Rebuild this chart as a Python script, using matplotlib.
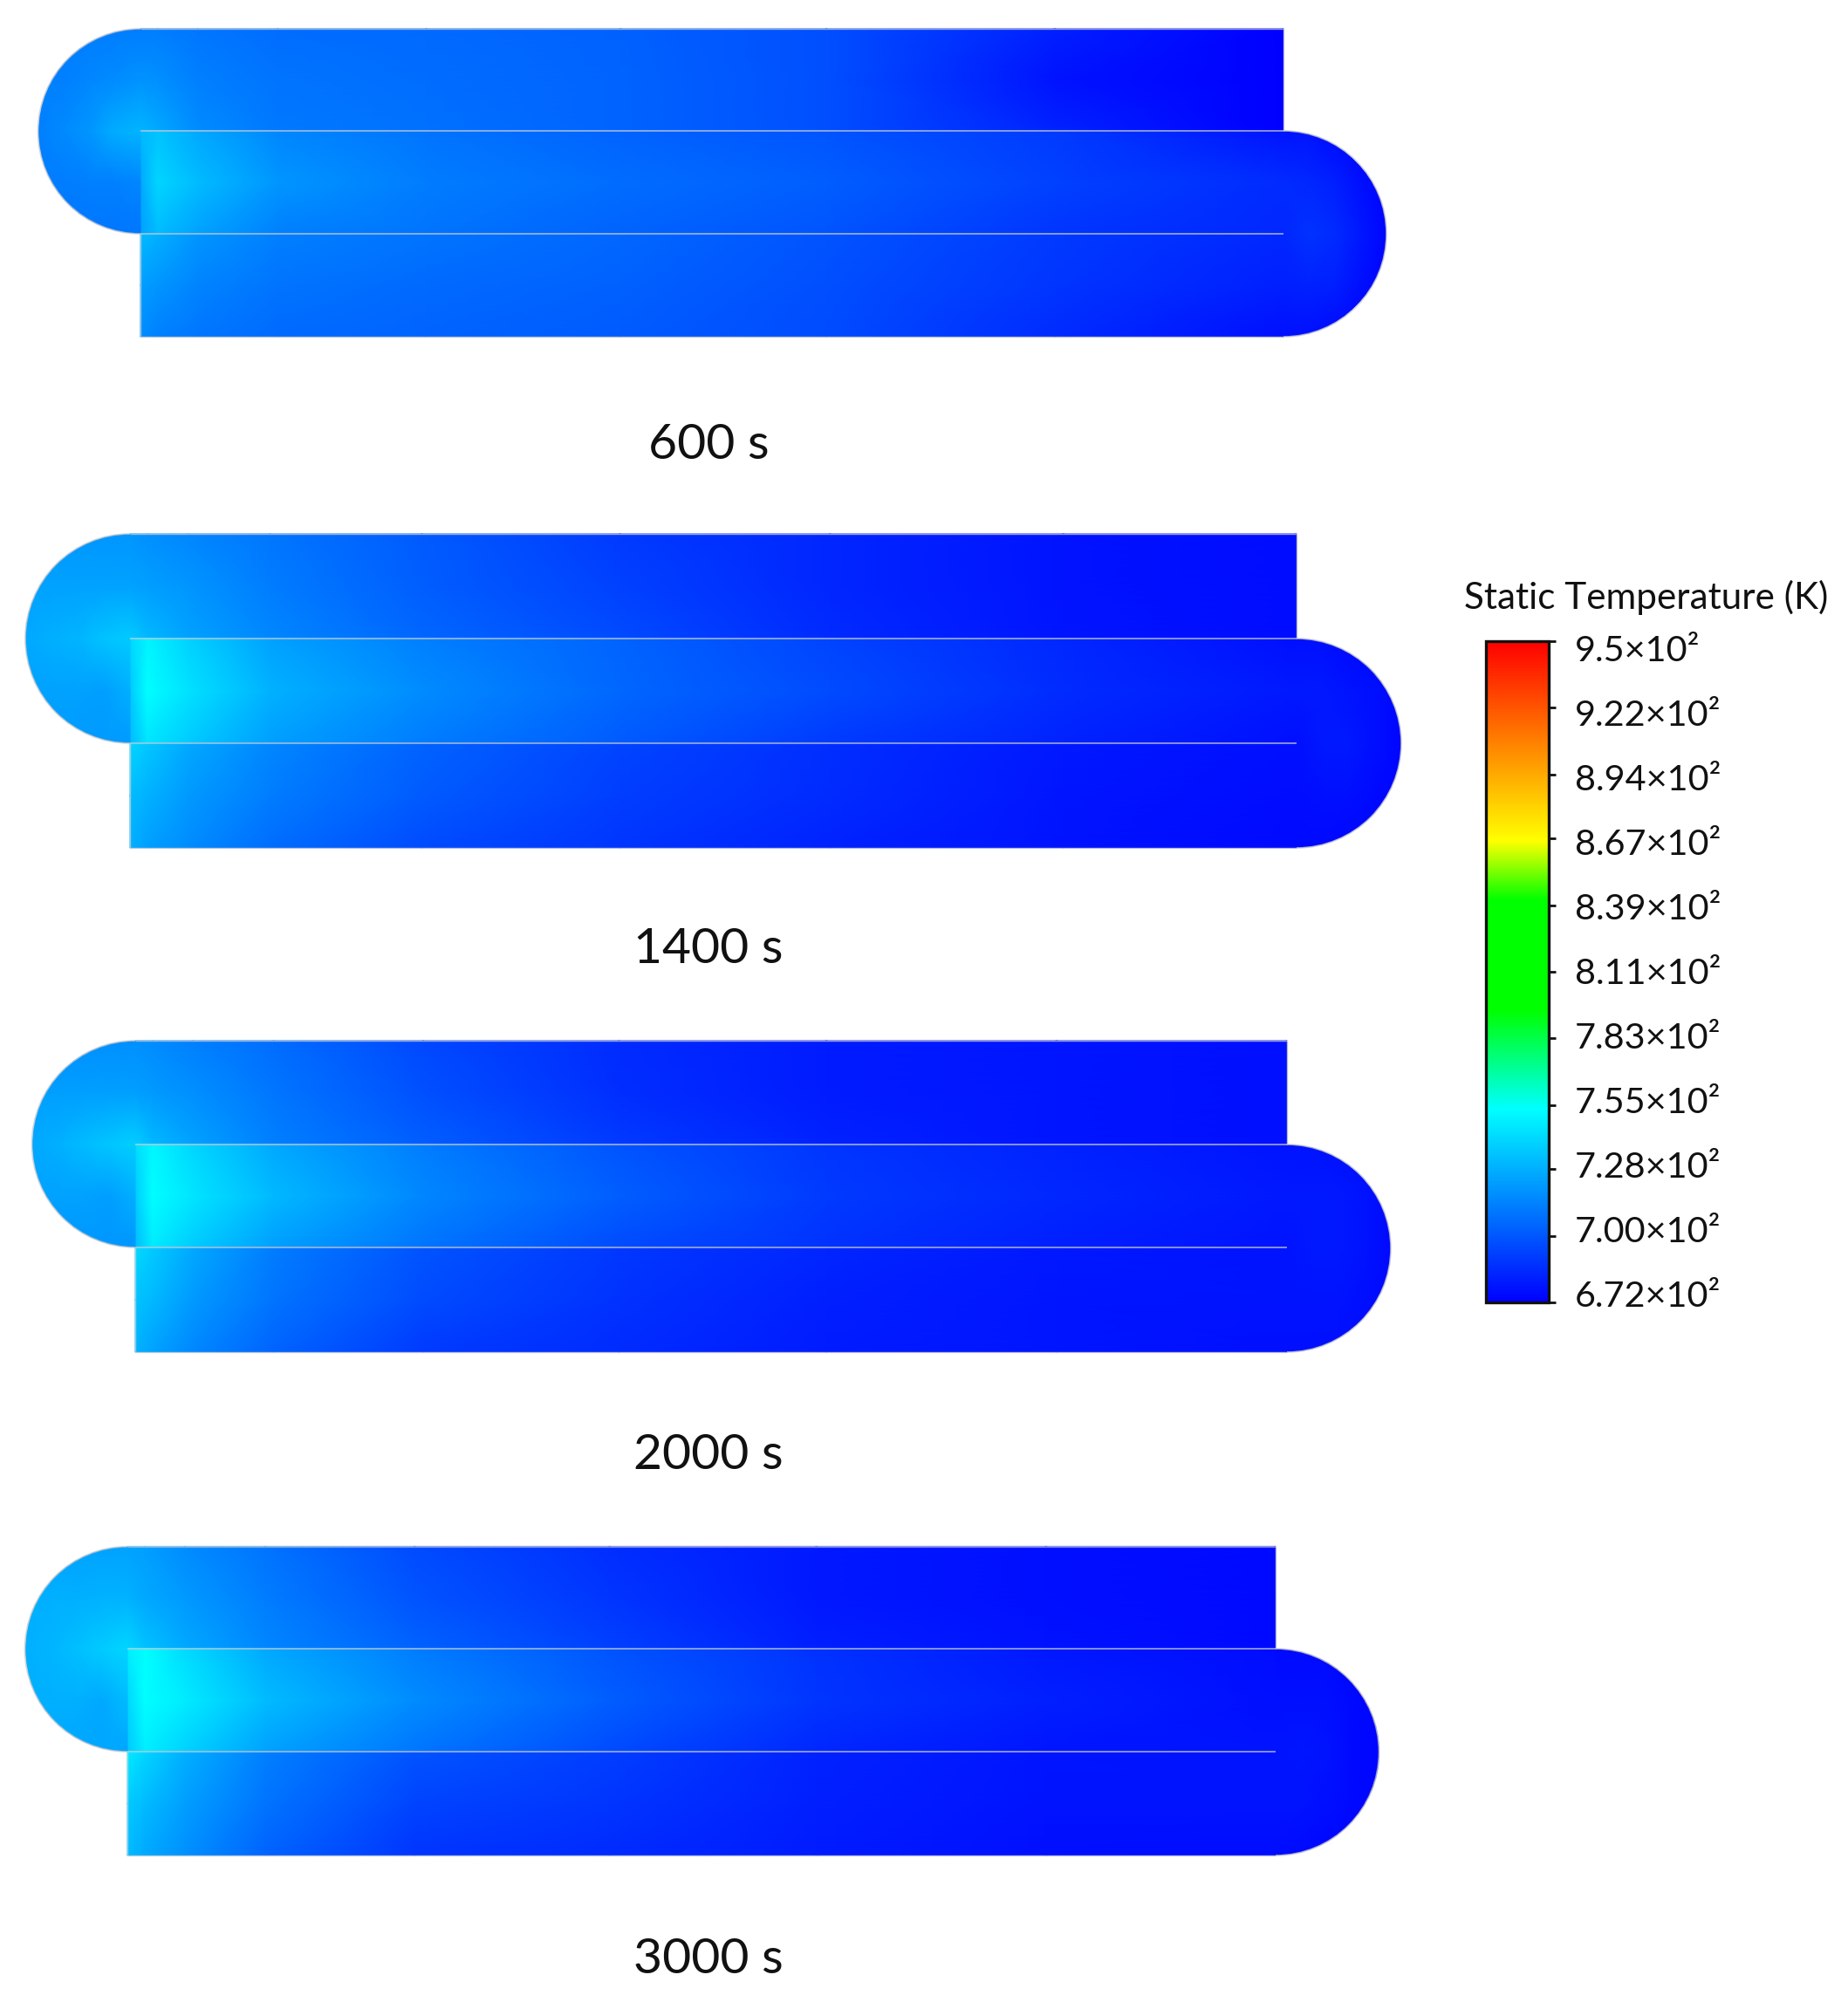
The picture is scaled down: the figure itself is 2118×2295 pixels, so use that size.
import numpy as np
import matplotlib
matplotlib.use("Agg")
import matplotlib.pyplot as plt
from matplotlib.cm import ScalarMappable
from matplotlib.colors import LinearSegmentedColormap, Normalize
from matplotlib.patches import Arc, Circle

# values
TIMES = ["600 s", "1400 s", "2000 s", "3000 s"]
COLORBAR_TITLE = "Static Temperature (K)"
TICK_VALUES = [950, 922, 894, 867, 839, 811, 783, 755, 728, 700, 672]
TICK_LABELS = ["9.5×10²", "9.22×10²", "8.94×10²", "8.67×10²", "8.39×10²", "8.11×10²",
               "7.83×10²", "7.55×10²", "7.28×10²", "7.00×10²", "6.72×10²"]
T_MIN = 672
T_MAX = 950

# colour scale stops as they appear on the bar
SCALE_STOPS = [0.0, 0.292, 0.442, 0.609, 0.698, 1.0]
SCALE_COLORS = ["#0000ff", "#00ffff", "#00ff00", "#00ff00", "#ffff00", "#ff0000"]

# temperature (K) sampled along the channels, left to right, three rows each
STATIONS = [0, 0.015, 0.05, 0.12, 0.25, 0.42, 0.6, 0.8, 1]

TOP_600 = [[712, 712, 710, 707, 706, 703, 697, 682, 672],
           [719, 718, 713, 709, 707, 704, 697, 678, 672],
           [730, 726, 717, 711, 708, 704, 697, 683, 672]]
MID_600 = [[731, 734, 726, 715, 709, 704, 699, 691, 678],
           [726, 740, 732, 720, 712, 707, 702, 693, 686],
           [723, 732, 724, 713, 709, 704, 699, 689, 685]]
LOW_600 = [[732, 728, 720, 713, 709, 705, 699, 691, 685],
           [723, 720, 714, 709, 706, 703, 697, 689, 682],
           [717, 713, 710, 706, 704, 701, 696, 686, 677]]
LEFT_600 = [[712, 712, 712, 712, 712],
            [713, 713, 715, 717, 719],
            [713, 716, 720, 727, 730],
            [712, 712, 713, 713, 715],
            [710, 710, 710, 710, 710]]
RIGHT_600 = [[678, 678, 675, 674, 672],
             [686, 685, 682, 677, 674],
             [685, 688, 686, 680, 674],
             [682, 683, 682, 677, 674],
             [677, 677, 675, 674, 672]]

TOP_1400 = [[720, 718, 715, 710, 701, 691, 684, 678, 676],
            [724, 723, 720, 712, 702, 693, 684, 678, 676],
            [737, 731, 724, 715, 705, 696, 686, 679, 676]]
MID_1400 = [[740, 750, 739, 724, 713, 704, 694, 685, 677],
            [736, 753, 744, 729, 717, 705, 696, 686, 680],
            [731, 745, 737, 723, 712, 701, 691, 683, 677]]
LOW_1400 = [[740, 736, 726, 715, 704, 694, 687, 680, 677],
            [732, 729, 721, 712, 701, 692, 686, 679, 676],
            [728, 723, 717, 707, 696, 689, 683, 678, 675]]
LEFT_1400 = [[720, 720, 720, 720, 720],
             [724, 724, 724, 724, 724],
             [726, 728, 730, 734, 737],
             [724, 724, 724, 723, 728],
             [721, 721, 721, 721, 721]]
RIGHT_1400 = [[677, 677, 675, 674, 674],
              [680, 680, 678, 677, 674],
              [677, 680, 680, 677, 674],
              [676, 677, 677, 675, 674],
              [675, 675, 674, 674, 672]]

TOP_2000 = [[718, 717, 713, 707, 695, 686, 681, 679, 677],
            [723, 721, 718, 710, 698, 687, 681, 679, 677],
            [738, 731, 724, 713, 702, 691, 683, 679, 677]]
MID_2000 = [[742, 751, 740, 726, 712, 699, 689, 683, 678],
            [737, 753, 745, 731, 715, 702, 691, 685, 680],
            [732, 747, 737, 723, 709, 696, 688, 682, 678]]
LOW_2000 = [[742, 737, 726, 712, 699, 690, 684, 680, 678],
            [734, 731, 721, 709, 696, 688, 682, 679, 678],
            [729, 724, 715, 704, 691, 686, 681, 679, 677]]
LEFT_2000 = [[718, 718, 718, 718, 718],
             [723, 723, 723, 723, 723],
             [726, 728, 732, 735, 738],
             [724, 724, 724, 723, 728],
             [720, 720, 720, 720, 720]]
RIGHT_2000 = [[678, 678, 677, 677, 675],
              [680, 680, 680, 678, 675],
              [678, 680, 680, 678, 675],
              [678, 678, 678, 677, 675],
              [677, 677, 677, 675, 674]]

TOP_3000 = [[724, 723, 717, 709, 696, 687, 680, 677, 675],
            [729, 726, 721, 712, 699, 689, 680, 677, 675],
            [740, 734, 726, 715, 704, 693, 682, 678, 675]]
MID_3000 = [[748, 753, 742, 726, 712, 699, 688, 680, 676],
            [740, 753, 747, 732, 717, 702, 689, 682, 677],
            [736, 748, 739, 724, 710, 696, 685, 679, 678]]
LOW_3000 = [[747, 740, 728, 713, 699, 692, 683, 679, 678],
            [737, 732, 723, 709, 694, 689, 682, 678, 678],
            [732, 726, 718, 704, 689, 686, 681, 677, 676]]
LEFT_3000 = [[724, 724, 724, 724, 724],
             [728, 728, 728, 729, 729],
             [728, 730, 733, 737, 740],
             [728, 728, 728, 726, 732],
             [725, 725, 725, 725, 725]]
RIGHT_3000 = [[675, 675, 675, 674, 672],
              [677, 677, 677, 675, 674],
              [678, 679, 678, 675, 674],
              [678, 678, 677, 675, 674],
              [676, 675, 674, 674, 672]]

FIELDS = [(TOP_600, MID_600, LOW_600, LEFT_600, RIGHT_600),
          (TOP_1400, MID_1400, LOW_1400, LEFT_1400, RIGHT_1400),
          (TOP_2000, MID_2000, LOW_2000, LEFT_2000, RIGHT_2000),
          (TOP_3000, MID_3000, LOW_3000, LEFT_3000, RIGHT_3000)]

# layout in image pixels: x_left, x_right, y_top, line1, line2, y_bottom
GEOMETRY = [(161, 1471, 33, 150, 268, 386),
            (149, 1486, 612, 732, 852, 972),
            (155, 1475, 1193, 1312, 1430, 1550),
            (146, 1462, 1773, 1890, 2008, 2127)]
LABEL_X = 812
LABEL_Y = [511, 1089, 1669, 2247]
FONT = "Lato"


def draw_mesh(ax, xs, ys, values, cmap, norm, clip=None):
    grid_x, grid_y = np.meshgrid(xs, ys)
    mesh = ax.pcolormesh(grid_x, grid_y, np.array(values, dtype=float),
                         shading="gouraud", cmap=cmap, norm=norm, zorder=2)
    if clip is not None:
        ax.add_patch(clip)
        mesh.set_clip_path(clip)


def draw_panel(ax, box, field, cmap, norm):
    left, right, top, line1, line2, bottom = box
    xs = left + np.array(STATIONS) * (right - left)
    top_t, mid_t, low_t, left_t, right_t = field

    draw_mesh(ax, xs, np.linspace(top, line1, 3), top_t, cmap, norm)
    draw_mesh(ax, xs, np.linspace(line1, line2, 3), mid_t, cmap, norm)
    draw_mesh(ax, xs, np.linspace(line2, bottom, 3), low_t, cmap, norm)

    # the two round ends
    r_left = (line2 - top) / 2
    r_right = (bottom - line1) / 2
    c_left = (line2 + top) / 2
    c_right = (bottom + line1) / 2
    draw_mesh(ax, np.linspace(left - r_left, left, 5), np.linspace(top, line2, 5), left_t,
              cmap, norm, Circle((left, c_left), r_left, fc="none", ec="none"))
    draw_mesh(ax, np.linspace(right, right + r_right, 5), np.linspace(line1, bottom, 5), right_t,
              cmap, norm, Circle((right, c_right), r_right, fc="none", ec="none"))

    # thin pale walls
    wall = dict(color="#c4ccd8", lw=1.2, alpha=0.8, zorder=3, solid_capstyle="butt")
    ax.plot([left, right], [line1, line1], **wall)
    ax.plot([left, right], [line2, line2], **wall)
    edge = dict(color="#c8ccd4", lw=1.0, alpha=0.75, zorder=3, solid_capstyle="butt")
    ax.plot([left, right, right], [top, top, line1], **edge)
    ax.plot([left, left, right], [line2, bottom, bottom], **edge)
    for center, radius, start in (((left, c_left), r_left, 90), ((right, c_right), r_right, 270)):
        ax.add_patch(Arc(center, 2 * radius, 2 * radius, theta1=start, theta2=start + 180,
                         color="#c8c8cc", lw=1.2, alpha=0.8, zorder=3))


def main():
    """Draws the four temperature contours and their colour bar"""

    fig = plt.figure(figsize=(21.18, 22.95), dpi=100, facecolor="white")
    ax = fig.add_axes([0, 0, 1, 1])
    ax.set_xlim(0, 2118)
    ax.set_ylim(2295, 0)
    ax.axis("off")

    cmap = LinearSegmentedColormap.from_list("fluent", list(zip(SCALE_STOPS, SCALE_COLORS)), N=512)
    norm = Normalize(T_MIN, T_MAX)

    for box, field, time, y in zip(GEOMETRY, FIELDS, TIMES, LABEL_Y):
        draw_panel(ax, box, field, cmap, norm)
        ax.text(LABEL_X, y, time, family=FONT, fontsize=41, ha="center", va="center", color="#111111")

    cax = fig.add_axes([1703 / 2118, 1 - 1493 / 2295, 72 / 2118, 758 / 2295])
    cbar = fig.colorbar(ScalarMappable(norm=norm, cmap=cmap), cax=cax)
    cbar.set_ticks(TICK_VALUES, labels=[""] * len(TICK_VALUES))
    cbar.ax.tick_params(length=5.8, width=2.0, color="#111111", pad=0)
    cbar.outline.set_linewidth(2.4)
    cbar.outline.set_edgecolor("#111111")

    ax.text(1887, 685, COLORBAR_TITLE, family=FONT, fontsize=30.4, ha="center", va="center", color="#111111")
    for label, y in zip(TICK_LABELS, np.linspace(746, 1487, len(TICK_LABELS))):
        ax.text(1805, y, label, family=FONT, fontsize=29.8, ha="left", va="center", color="#111111")

    fig.savefig("out.png", dpi=100)


if __name__ == "__main__":
    main()
